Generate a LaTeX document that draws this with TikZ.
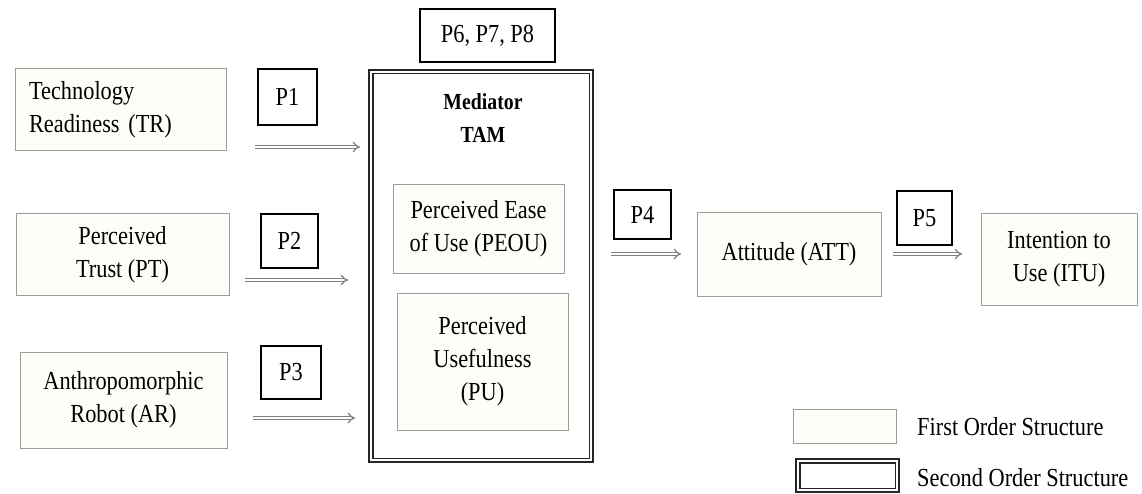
\documentclass[tikz,border=0pt]{standalone}
\usepackage{fontspec}
\setmainfont{Liberation Serif}[FakeStretch=0.86]
\usetikzlibrary{arrows.meta}
\definecolor{boxgray}{HTML}{9C9C98}
\definecolor{boxfill}{HTML}{FEFEF9}
\definecolor{flowgray}{HTML}{808080}
\begin{document}
\begin{tikzpicture}[x=1pt,y=-1pt,
  txt/.style={font=\fontsize{26}{33}\selectfont},
  firstorder/.style={txt, draw=boxgray, fill=boxfill, line width=1pt, inner sep=0pt, align=center},
  plabel/.style={txt, draw=black, line width=1.3pt, fill=white, inner sep=0pt, align=center},
  secondorder/.style={draw=black!85, line width=1.7pt, double=white, double distance=2.2pt, inner sep=0pt},
  flow/.style={draw=flowgray, line width=1.3pt, double=white, double distance=2.2pt, -{Implies}}
]
\useasboundingbox[fill=white] (0,0) rectangle (1142,494);

% antecedents
\node[firstorder, minimum width=211pt, minimum height=82pt, text width=183pt, align=left]
  (tr) at (120.5,110) {Technology\\Readiness (TR)};
\node[firstorder, minimum width=213pt, minimum height=81pt] (pt) at (122.5,254.5) {Perceived\\Trust (PT)};
\node[firstorder, minimum width=207pt, minimum height=96pt] (ar) at (123.5,400) {Anthropomorphic\\Robot (AR)};

% proposition labels
\node[plabel, minimum width=59pt, minimum height=56pt] (p1) at (287.5,97) {P1};
\node[plabel, minimum width=57pt, minimum height=54pt] (p2) at (289.5,241) {P2};
\node[plabel, minimum width=60pt, minimum height=53pt] (p3) at (291,372.5) {P3};
\node[plabel, minimum width=135pt, minimum height=53pt] (p678) at (487.5,35.5) {P6, P7, P8};
\node[plabel, minimum width=57pt, minimum height=49pt] (p4) at (642.5,214.5) {P4};
\node[plabel, minimum width=55pt, minimum height=54pt] (p5) at (924.5,218) {P5};

% mediator block
\node[secondorder, minimum width=220.6pt, minimum height=388.6pt] (tam) at (481,266) {};
\node[txt, font=\fontsize{23}{33}\selectfont\bfseries, align=center] (med) at (483,118) {Mediator\\TAM};
\node[firstorder, minimum width=171pt, minimum height=88pt] (peou) at (478.5,229) {Perceived Ease\\of Use (PEOU)};
\node[firstorder, minimum width=171pt, minimum height=137pt] (pu) at (482.5,361.5) {Perceived\\Usefulness\\(PU)};

% outcomes
\node[firstorder, minimum width=184pt, minimum height=83pt] (att) at (789,254.5) {Attitude (ATT)};
\node[firstorder, minimum width=156pt, minimum height=91pt] (itu) at (1059,259.5) {Intention to\\Use (ITU)};

% path arrows
\coordinate (a1s) at (255,147); \coordinate (a1e) at (360,147);
\coordinate (a2s) at (245,280); \coordinate (a2e) at (348,280);
\coordinate (a3s) at (253,418); \coordinate (a3e) at (355,418);
\coordinate (a4s) at (611,254); \coordinate (a4e) at (681,254);
\coordinate (a5s) at (893,254); \coordinate (a5e) at (962,254);
\draw[flow] (a1s) -- (a1e);
\draw[flow] (a2s) -- (a2e);
\draw[flow] (a3s) -- (a3e);
\draw[flow] (a4s) -- (a4e);
\draw[flow] (a5s) -- (a5e);

% legend
\node[firstorder, minimum width=103pt, minimum height=34pt] (leg1) at (844.5,426) {};
\node[secondorder, minimum width=99.6pt, minimum height=29.6pt] (leg2) at (847.5,475.5) {};
\node[txt, anchor=west, inner sep=0pt] (leg1t) at (917,427) {First Order Structure};
\node[txt, anchor=west, inner sep=0pt] (leg2t) at (917,478) {Second Order Structure};
\end{tikzpicture}
\end{document}
